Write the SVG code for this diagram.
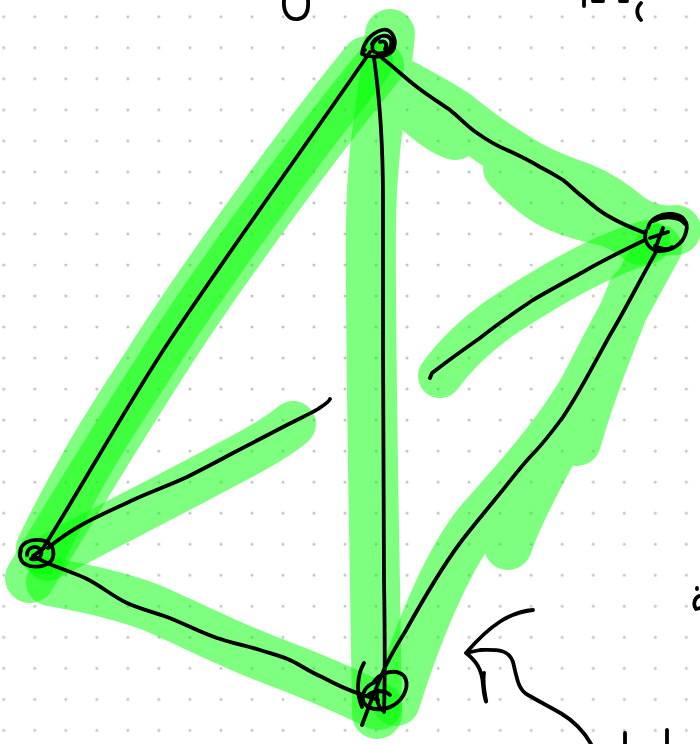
<svg xmlns="http://www.w3.org/2000/svg" width="700" height="744" viewBox="0 0 700 744">
<defs>
<pattern id="dots" patternUnits="userSpaceOnUse" x="-11.8" y="1.2" width="31.03" height="31.03">
<circle cx="15.515" cy="15.515" r="1.5" fill="#c2c2c2"/>
</pattern>
</defs>
<style>
.hl{fill:none;stroke:#00ff00;stroke-opacity:0.5;stroke-linecap:round;stroke-linejoin:round}
.ink{fill:none;stroke:#000;stroke-width:3.8;stroke-linecap:round;stroke-linejoin:round}
</style>
<rect width="700" height="744" fill="#fff"/>
<rect width="700" height="744" fill="url(#dots)"/>
<g id="connectors">
<g id="highlights">
<path class="hl" stroke-width="50" d="M390,34 C385,90 372,140 371,220 C370,350 374,500 377,714 M405,85 C425,97 445,106 460,118 C475,130 495,145 517,158 C535,170 560,180 583,188 C600,195 615,205 630,218 C645,228 660,232 676,230 M420,112 C435,125 445,132 455,135 M508,168 C520,180 535,195 552,204 C570,213 590,218 610,222 C620,226 630,232 640,240"/>
<path class="hl" stroke-width="52" d="M367,62 C295,150 195,290 145,370 C105,430 75,480 42,548"/>
<path class="hl" stroke-width="50" d="M379,66 C307,154 207,292 157,372 C117,434 77,500 30,578"/>
<path class="hl" stroke-width="44" d="M648,242 C600,255 545,288 500,318 C472,338 455,355 440,376"/>
<path class="hl" stroke-width="48" d="M658,248 C635,290 610,335 585,385 C560,430 520,475 480,520 C455,550 425,610 396,702 M632,290 C612,340 592,390 577,442 M575,410 C555,450 530,490 512,535 L508,546"/>
<path class="hl" stroke-width="46" d="M48,558 C100,530 170,495 220,468 C255,450 280,436 293,424"/>
<path class="hl" stroke-width="48" d="M50,582 C80,587 115,594 150,607 C190,624 230,645 270,660 C310,675 345,690 378,706"/>
</g>
<g id="edges">
<path class="ink" d="M370,52 C320,125 230,250 170,340 C130,400 80,490 42,550"/>
<path class="ink" d="M374,58 C380,100 383,140 383,200 C383,320 383,480 384,580 C385,640 385,680 384,712"/>
<path class="ink" d="M382,58 C395,68 405,78 417,87 C430,97 440,103 450,110 C460,118 468,127 477,133 C487,140 497,146 507,150 C520,156 530,161 540,167 C550,172 555,175 563,180 C572,187 576,192 583,197 C592,205 600,212 610,217 C620,223 632,228 645,233"/>
<path class="ink" d="M645,240 C620,252 600,262 583,272 C565,282 550,290 533,300 C515,312 500,322 480,338 C460,352 445,363 432,373 L430,378"/>
<path class="ink" d="M657,250 C640,280 625,310 610,335 C595,362 580,392 563,417 C552,432 542,445 530,457 C518,470 508,484 497,497 C485,512 472,527 460,543 C440,570 420,605 405,632 C395,648 388,660 383,672 C375,690 368,708 362,725"/>
<path class="ink" d="M48,548 C60,538 72,530 85,523 C100,515 118,507 133,500 C150,492 170,485 187,477 C205,468 220,460 233,453 C250,444 268,435 283,427 C298,419 310,414 318,409 C324,405 329,402 330,399"/>
<path class="ink" d="M45,562 C58,568 72,572 85,578 C100,585 112,596 127,603 C140,609 153,612 167,617 C185,624 200,632 217,638 C232,643 247,646 260,650 C272,654 282,656 292,661 C302,666 310,672 322,677 C335,684 348,690 360,694 L378,700"/>
</g>
</g>
<g id="node-a">
<path class="ink" d="M362,54 C363,43 371,33 382,30 C391,28 397,38 394,48 C391,56 379,58 368,56 C362,55 361,52 365,50 M372,44 C376,35 388,33 391,40 C393,48 385,55 377,53 C370,51 371,42 379,38 M380,42 C385,40 388,44 385,49"/>
</g>
<g id="node-b">
<path class="ink" d="M648,228 C650,218 662,213 672,214 C683,215 689,222 686,232 C683,245 670,252 658,251 C648,249 643,240 646,231 M653,221 C665,215 680,217 685,224 M650,238 L668,232 M657,244 L663,228 M655,246 C662,250 668,250 672,247"/>
</g>
<g id="node-c">
<path class="ink" d="M20,553 C20,543 30,539 40,540 C50,541 55,548 53,557 C51,565 40,568 30,566 C22,564 18,558 21,550 M27,555 C27,547 36,545 40,549 C44,555 38,561 31,559 M33,556 L44,548 M33,556 L43,561"/>
</g>
<g id="node-d">
<path class="ink" d="M364,663 C357,675 356,693 362,707 M373,683 C380,672 396,668 404,676 C410,684 405,698 394,705 C384,711 370,711 364,703 C360,694 366,685 376,682 M368,695 C375,690 385,690 390,695 M378,690 C376,698 377,705 382,710"/>
</g>
<g id="annotations">
<path class="ink" d="M284,0 C283,12 288,20 298,19 C306,18 309,12 308,0"/>
<path class="ink" d="M584,0 L584,6 M593,1 L603,1 M620,1 L627,1 M641,3 C636,8 636,15 641,20"/>
<path class="ink" d="M697,588 L697,589 M699,596 C694,598 693,605 696,609 L700,608"/>
<path class="ink" d="M533,610 C510,612 490,625 466,653 L480,650 C495,650 508,648 513,662 C517,678 518,690 528,695 C540,702 552,708 562,714 C572,720 583,730 591,744 M466,653 C475,660 482,668 483,685 C484,698 487,705 486,700 C484,690 483,680 484,673"/>
<path class="ink" d="M625,733 L625,744 M667,730 L667,744"/>
</g>
</svg>
